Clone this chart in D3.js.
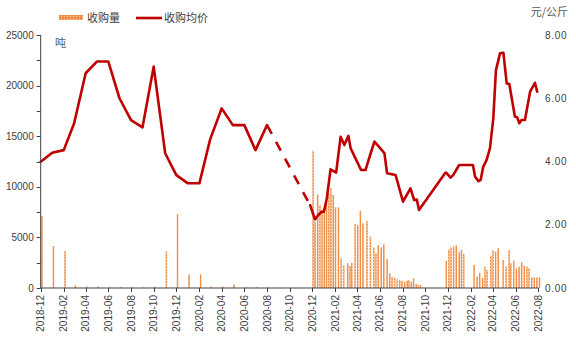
<!DOCTYPE html>
<html><head><meta charset="utf-8">
<script src="https://cdn.jsdelivr.net/npm/d3@7"></script>
<style>
html,body{margin:0;padding:0;background:#fff;}
svg{display:block;font-family:"Liberation Sans",Arial,sans-serif;}
</style></head>
<body><svg id="c" width="576" height="351"></svg>
<script>
// ---- data ----
const tickLabels = ["2018-12","2019-02","2019-04","2019-06","2019-08","2019-10","2019-12","2020-02","2020-04","2020-06","2020-08","2020-10","2020-12","2021-02","2021-04","2021-06","2021-08","2021-10","2021-12","2022-02","2022-04","2022-06","2022-08"];
const leftTicks = [0,5000,10000,15000,20000,25000];
const rightTicks = [0,2,4,6,8];

const monthDates = ["2018-12-01","2019-01-01","2019-02-01","2019-03-01","2019-04-01","2019-05-01","2019-06-01","2019-07-01","2019-08-01","2019-09-01","2019-10-01","2019-11-01","2019-12-01","2020-01-01","2020-02-01","2020-03-01","2020-04-01","2020-05-01","2020-06-01","2020-07-01","2020-08-01"];
const monthPrice = [3.99,4.28,4.36,5.21,6.79,7.16,7.16,6.00,5.31,5.08,7.00,4.26,3.57,3.31,3.31,4.70,5.68,5.15,5.15,4.36,5.15];
const monthVolume = [7100,4150,3650,270,150,150,80,80,60,60,120,3600,7300,1350,1350,150,150,360,80,80,80];

const weekPriceDates = ["2020-11-25","2020-12-08","2020-12-17","2020-12-26","2021-01-01","2021-01-09","2021-01-19","2021-02-03","2021-02-15","2021-02-25","2021-03-08","2021-03-14","2021-03-29","2021-04-11","2021-04-23","2021-05-04","2021-05-17","2021-05-29","2021-06-13","2021-06-20","2021-07-13","2021-08-02","2021-08-22","2021-09-01","2021-09-08","2021-09-14","2021-11-23","2021-11-26","2021-12-08","2021-12-15","2021-12-31","2022-02-06","2022-02-12","2022-02-21","2022-02-27","2022-03-06","2022-03-15","2022-03-24","2022-04-02","2022-04-09","2022-04-20","2022-04-29","2022-05-08","2022-05-15","2022-05-30","2022-06-05","2022-06-11","2022-06-17","2022-06-26","2022-07-10","2022-07-23","2022-07-29"];
const weekPrice = [2.62,2.17,2.31,2.41,2.41,2.84,3.75,3.65,4.78,4.52,4.81,4.42,4.05,3.73,3.73,4.15,4.63,4.47,4.26,3.63,3.57,2.73,3.15,2.78,2.80,2.47,3.63,3.65,3.49,3.57,3.89,3.89,3.52,3.38,3.42,3.84,4.05,4.42,5.37,6.89,7.42,7.44,6.47,6.45,5.42,5.40,5.21,5.31,5.31,6.21,6.49,6.21];

const weekVolDates = ["2020-11-30","2020-12-05","2020-12-12","2020-12-18","2020-12-24","2020-12-30","2021-01-05","2021-01-11","2021-01-17","2021-01-23","2021-01-29","2021-02-06","2021-02-13","2021-02-20","2021-03-03","2021-03-09","2021-03-14","2021-03-23","2021-03-30","2021-04-06","2021-04-13","2021-04-24","2021-05-03","2021-05-12","2021-05-18","2021-05-24","2021-06-01","2021-06-08","2021-06-17","2021-06-24","2021-06-30","2021-07-07","2021-07-14","2021-07-21","2021-07-27","2021-08-03","2021-08-10","2021-08-15","2021-08-21","2021-08-27","2021-09-03","2021-09-09","2021-09-15",
"2021-11-23","2021-11-30","2021-12-06","2021-12-13","2021-12-20","2021-12-28","2022-01-03","2022-01-09",
"2022-02-06","2022-02-14","2022-02-21","2022-03-01","2022-03-07","2022-03-13","2022-03-23","2022-03-29","2022-04-05","2022-04-12","2022-04-25","2022-05-03","2022-05-11","2022-05-16","2022-05-24","2022-05-31","2022-06-07","2022-06-14","2022-06-21","2022-06-28","2022-07-04","2022-07-11","2022-07-18","2022-07-25","2022-08-01"];
const weekVolume = [13570,6550,9260,8200,7700,7640,8370,9360,9850,9190,7970,7970,2930,2270,2440,2170,2500,6320,6230,7610,6390,6620,5070,4020,3430,4220,4020,4320,2840,1450,1120,1020,860,790,720,620,720,790,620,960,400,300,300,
2670,3820,4020,4120,4220,3530,3750,3360,
2270,1120,1510,990,2110,1780,3190,3750,3590,3920,2770,2110,3750,2440,2700,1950,2110,2540,2200,2110,1950,1050,1050,1050,1050];

// ---- chart ----
const svg = d3.select("#c");
const parse = d3.utcParse("%Y-%m-%d");
const m = {l:40.7, r:538.3, t:35, b:288};
const x = d3.scaleUtc().domain([parse("2018-12-01"), parse("2022-08-01")]).range([m.l, m.r]);
const yL = d3.scaleLinear().domain([0,25000]).range([m.b, m.t]);
const yR = d3.scaleLinear().domain([0,8]).range([m.b, m.t]);

const defs = svg.append("defs");
const pat = defs.append("pattern").attr("id","dots").attr("patternUnits","userSpaceOnUse").attr("width",3).attr("height",3);
pat.append("rect").attr("width",3).attr("height",3).attr("fill","#f08f48");
pat.append("rect").attr("x",1).attr("y",1).attr("width",1).attr("height",1).attr("fill","#fbd2ae");

const axisColor = "#404040";
const textColor = "#404040";

// bars
const bars = monthDates.map((d,i)=>({d:parse(d), v:monthVolume[i]}))
  .concat(weekVolDates.map((d,i)=>({d:parse(d), v:weekVolume[i]})));
const bw = 1.5;
svg.append("g").selectAll("rect").data(bars).enter().append("rect")
  .attr("x", d=>x(d.d) - bw/2 + 1.2)
  .attr("width", bw)
  .attr("y", d=>yL(d.v))
  .attr("height", d=>m.b - yL(d.v))
  .attr("fill","url(#dots)");

// lines
const line = d3.line().x(d=>x(d.d)).y(d=>yR(d.v));
const early = monthDates.map((d,i)=>({d:parse(d), v:monthPrice[i]}));
const late = weekPriceDates.map((d,i)=>({d:parse(d), v:weekPrice[i]}));
const red = "#c00000";
svg.append("path").attr("d", line(early)).attr("fill","none").attr("stroke",red).attr("stroke-width",2.6).attr("stroke-linejoin","round").attr("stroke-linecap","round");
svg.append("path").attr("d", line([early[early.length-1], late[0]])).attr("fill","none").attr("stroke",red).attr("stroke-width",2.6).attr("stroke-dasharray","10,9");
svg.append("path").attr("d", line(late)).attr("fill","none").attr("stroke",red).attr("stroke-width",2.6).attr("stroke-linejoin","round").attr("stroke-linecap","round");

// left axis
const gl = svg.append("g").attr("transform",`translate(${m.l},0)`);
gl.append("line").attr("x1",0).attr("x2",0).attr("y1",m.t).attr("y2",m.b).attr("stroke",axisColor);
gl.selectAll(".mt").data(d3.range(0,25001,2500)).enter().append("line")
  .attr("x1",-4).attr("x2",0).attr("y1",d=>Math.round(yL(d))+0.5).attr("y2",d=>Math.round(yL(d))+0.5).attr("stroke",axisColor);
gl.selectAll("text").data(leftTicks).enter().append("text")
  .attr("x",-7).attr("y",d=>yL(d)).attr("dy","0.35em").attr("text-anchor","end")
  .attr("font-size",10).attr("fill",textColor).text(d=>d);

// x axis
const gx = svg.append("g");
gx.append("line").attr("x1",m.l).attr("x2",m.r).attr("y1",m.b).attr("y2",m.b).attr("stroke",axisColor);
const tickDates = tickLabels.map(t=>parse(t+"-01"));
gx.selectAll(".xt").data(tickDates).enter().append("line")
  .attr("x1",d=>Math.round(x(d))+0.5).attr("x2",d=>Math.round(x(d))+0.5).attr("y1",m.b).attr("y2",m.b+4).attr("stroke",axisColor);
gx.selectAll("text").data(tickLabels).enter().append("text")
  .attr("transform",(t,i)=>`translate(${x(tickDates[i])},${m.b+7}) rotate(-90)`)
  .attr("text-anchor","end").attr("dy","0.35em")
  .attr("font-size",10).attr("fill",textColor).text(t=>t);

// right axis labels
svg.append("g").selectAll("text").data(rightTicks).enter().append("text")
  .attr("x",545).attr("y",d=>yR(d)).attr("dy","0.35em")
  .attr("font-size",10).attr("letter-spacing","0.7px").attr("fill",textColor).text(d=>d.toFixed(2));

// unit labels
svg.append("text").attr("x",568).attr("y",16).attr("text-anchor","end")
  .attr("font-family","Noto Sans CJK SC").attr("font-size",11).attr("fill","#595959").text("元/公斤");
svg.append("text").attr("x",55).attr("y",47)
  .attr("font-family","Noto Sans CJK SC").attr("font-size",11).attr("fill","#595959").text("吨");

// legend
const lg = svg.append("g");
lg.append("rect").attr("x",59).attr("y",15).attr("width",24).attr("height",5).attr("fill","url(#dots)");
lg.append("text").attr("x",87).attr("y",18).attr("dy","0.35em").attr("font-family","Noto Sans CJK SC").attr("font-size",11).attr("fill","#404040").text("收购量");
lg.append("line").attr("x1",136).attr("x2",162).attr("y1",18).attr("y2",18).attr("stroke",red).attr("stroke-width",2.6);
lg.append("text").attr("x",164).attr("y",18).attr("dy","0.35em").attr("font-family","Noto Sans CJK SC").attr("font-size",11).attr("fill","#404040").text("收购均价");
</script></body></html>
